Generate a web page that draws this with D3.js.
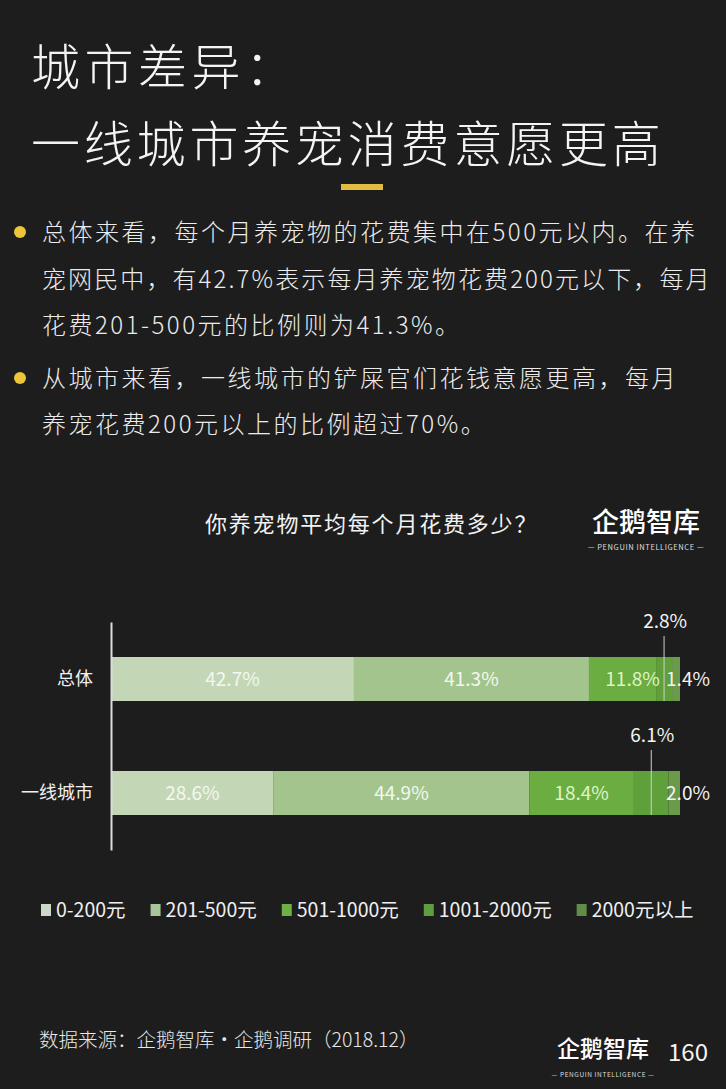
<!DOCTYPE html>
<html><head><meta charset="utf-8">
<script src="https://cdn.jsdelivr.net/npm/d3@7"></script>
<style>
html,body{margin:0;padding:0;background:#1d1d1d;}
svg{display:block;}
text{font-family:"Noto Sans CJK SC","Noto Sans",sans-serif;}
</style></head>
<body>
<script>
// ---- data ----
const categories = ["总体", "一线城市"];
const seriesNames = ["0-200元", "201-500元", "501-1000元", "1001-2000元", "2000元以上"];
const totalValues = [42.7, 41.3, 11.8, 2.8, 1.4];
const tier1Values = [28.6, 44.9, 18.4, 6.1, 2.0];
const titleLines = ["城市差异：", "一线城市养宠消费意愿更高"];
const bulletParas = [
  ["总体来看，每个月养宠物的花费集中在500元以内。在养", "宠网民中，有42.7%表示每月养宠物花费200元以下，每月", "花费201-500元的比例则为41.3%。"],
  ["从城市来看，一线城市的铲屎官们花钱意愿更高，每月", "养宠花费200元以上的比例超过70%。"]
];
const chartTitle = "你养宠物平均每个月花费多少？";
const sourceText = "数据来源：企鹅智库·企鹅调研（2018.12）";
const pageNo = "160";

const segColors = ["#c3d6b6", "#a3c58d", "#6cad42", "#60a03a", "#6a9a4a"];
const legendColors = ["#ced8ca", "#a8c69a", "#6cb046", "#5e9e40", "#5f8c48"];

const W = 726, H = 1089;
const svg = d3.select("body").append("svg").attr("width", W).attr("height", H);
svg.append("rect").attr("width", W).attr("height", H).attr("fill", "#1d1d1d");

// ---- title ----
svg.append("text").attr("x", 31).attr("y", 85).attr("fill", "#f4f4f4")
  .attr("font-size", 49).attr("letter-spacing", 4.5).attr("font-weight", 300).text(titleLines[0]);
svg.append("text").attr("x", 31).attr("y", 162).attr("fill", "#f4f4f4")
  .attr("font-size", 49).attr("letter-spacing", 3.8).attr("font-weight", 300).text(titleLines[1]);
svg.append("rect").attr("x", 341).attr("y", 184).attr("width", 42).attr("height", 6).attr("fill", "#e2bb40");

// ---- bullets ----
const lineYs = [[232, 279, 325], [378, 424]];
bulletParas.forEach((p, i) => {
  svg.append("circle").attr("cx", 20).attr("cy", lineYs[i][0]).attr("r", 6).attr("fill", "#ecc53a");
  p.forEach((ln, j) => {
    const t = svg.append("text").attr("x", 42).attr("y", lineYs[i][j]).attr("dy", "0.36em")
      .attr("fill", "#ececec").attr("font-size", 24).attr("letter-spacing", 2.5)
      .attr("font-weight", 300).text(ln);
    const w = t.node().getComputedTextLength();
    if (42 + w > 712) t.attr("textLength", 712 - 42).attr("lengthAdjust", "spacing");
  });
});

// ---- chart title & logo ----
svg.append("text").attr("x", 205).attr("y", 524).attr("dy", "0.36em").attr("fill", "#f2f2f2")
  .attr("font-size", 22).attr("letter-spacing", 1.8).text(chartTitle);

function logo(x, y, size, subY, subSize) {
  const g = svg.append("g");
  g.append("text").attr("x", x).attr("y", y).attr("fill", "#fff").attr("font-size", size)
    .attr("font-weight", 500).text("企鹅智库");
  g.append("text").attr("x", x + size * 2).attr("y", subY).attr("text-anchor", "middle")
    .attr("fill", "#ddd").attr("font-size", subSize).attr("letter-spacing", 0.6)
    .text("— PENGUIN INTELLIGENCE —");
}
logo(592, 532, 27, 550, 7.5);
logo(557, 1057, 23, 1077, 6.5);

// ---- chart ----
const x = d3.scaleLinear().domain([0, 100]).range([111, 680]);
const y = d3.scaleBand().domain(categories).range([622, 850]).paddingInner(0.614).paddingOuter(0.307);

const rows = [totalValues, tier1Values].map((vals, ri) => {
  let acc = 0;
  return vals.map((v, si) => { const o = { cat: categories[ri], si, v, x0: acc, x1: acc + v }; acc += v; return o; });
});

const gBars = svg.append("g");
rows.forEach(row => {
  gBars.selectAll(null).data(row).enter().append("rect")
    .attr("x", d => x(d.x0)).attr("width", d => x(d.x1) - x(d.x0))
    .attr("y", d => y(d.cat)).attr("height", y.bandwidth())
    .attr("fill", d => segColors[d.si]);
});

// axis
const yAxis = d3.axisLeft(y).tickSize(0).tickPadding(18);
const ga = svg.append("g").attr("transform", "translate(111,0)").call(yAxis);
ga.select(".domain").attr("stroke", "#dcdcdc").attr("stroke-width", 2);
ga.selectAll("text").attr("fill", "#f0f0f0").attr("font-size", 18)
  .attr("font-family", '"Noto Sans CJK SC",sans-serif');

// labels
const fmt = v => v.toFixed(1) + "%";
const labelColors = ["#f4f8f0", "#f4f8f0", "#dff5c6", null, null];
rows.forEach(row => {
  const cy = y(row[0].cat) + y.bandwidth() / 2;
  row.forEach(d => {
    if (d.si < 3) {
      const dx = (d.si === 2 && d.v < 15) ? 10 : 0;
      svg.append("text").attr("x", x((d.x0 + d.x1) / 2) + dx).attr("y", cy).attr("dy", "0.36em")
        .attr("text-anchor", "middle").attr("fill", labelColors[d.si]).attr("font-size", 19).text(fmt(d.v));
    } else if (d.si === 3) {
      const mx = x((d.x0 + d.x1) / 2);
      svg.append("line").attr("x1", mx).attr("x2", mx).attr("y1", y(d.cat) - 21).attr("y2", y(d.cat) + y.bandwidth())
        .attr("stroke", "#cfcfcf").attr("stroke-width", 1);
      svg.append("text").attr("x", mx + 1).attr("y", y(d.cat) - 36).attr("dy", "0.36em")
        .attr("text-anchor", "middle").attr("fill", "#f4f4f4").attr("font-size", 19).text(fmt(d.v));
    } else {
      svg.append("text").attr("x", x(100) + 8).attr("y", cy).attr("dy", "0.36em")
        .attr("text-anchor", "middle").attr("fill", "#f4f4f4").attr("font-size", 19).text(fmt(d.v));
    }
  });
});

// legend
let lx = 41;
seriesNames.forEach((n, i) => {
  svg.append("rect").attr("x", lx).attr("y", 904).attr("width", 10).attr("height", 12).attr("fill", legendColors[i]);
  const t = svg.append("text").attr("x", lx + 15).attr("y", 910).attr("dy", "0.36em")
    .attr("fill", "#f0f0f0").attr("font-size", 19.5).text(n);
  lx = lx + 15 + t.node().getComputedTextLength() + 25;
});

// footer
svg.append("text").attr("x", 39).attr("y", 1040).attr("dy", "0.36em").attr("fill", "#e8e8e8")
  .attr("font-size", 19.5).attr("font-weight", 300).text(sourceText);
svg.append("text").attr("x", 668).attr("y", 1052).attr("dy", "0.36em").attr("fill", "#f4f4f4")
  .attr("font-size", 24).text(pageNo);
</script>
</body></html>
